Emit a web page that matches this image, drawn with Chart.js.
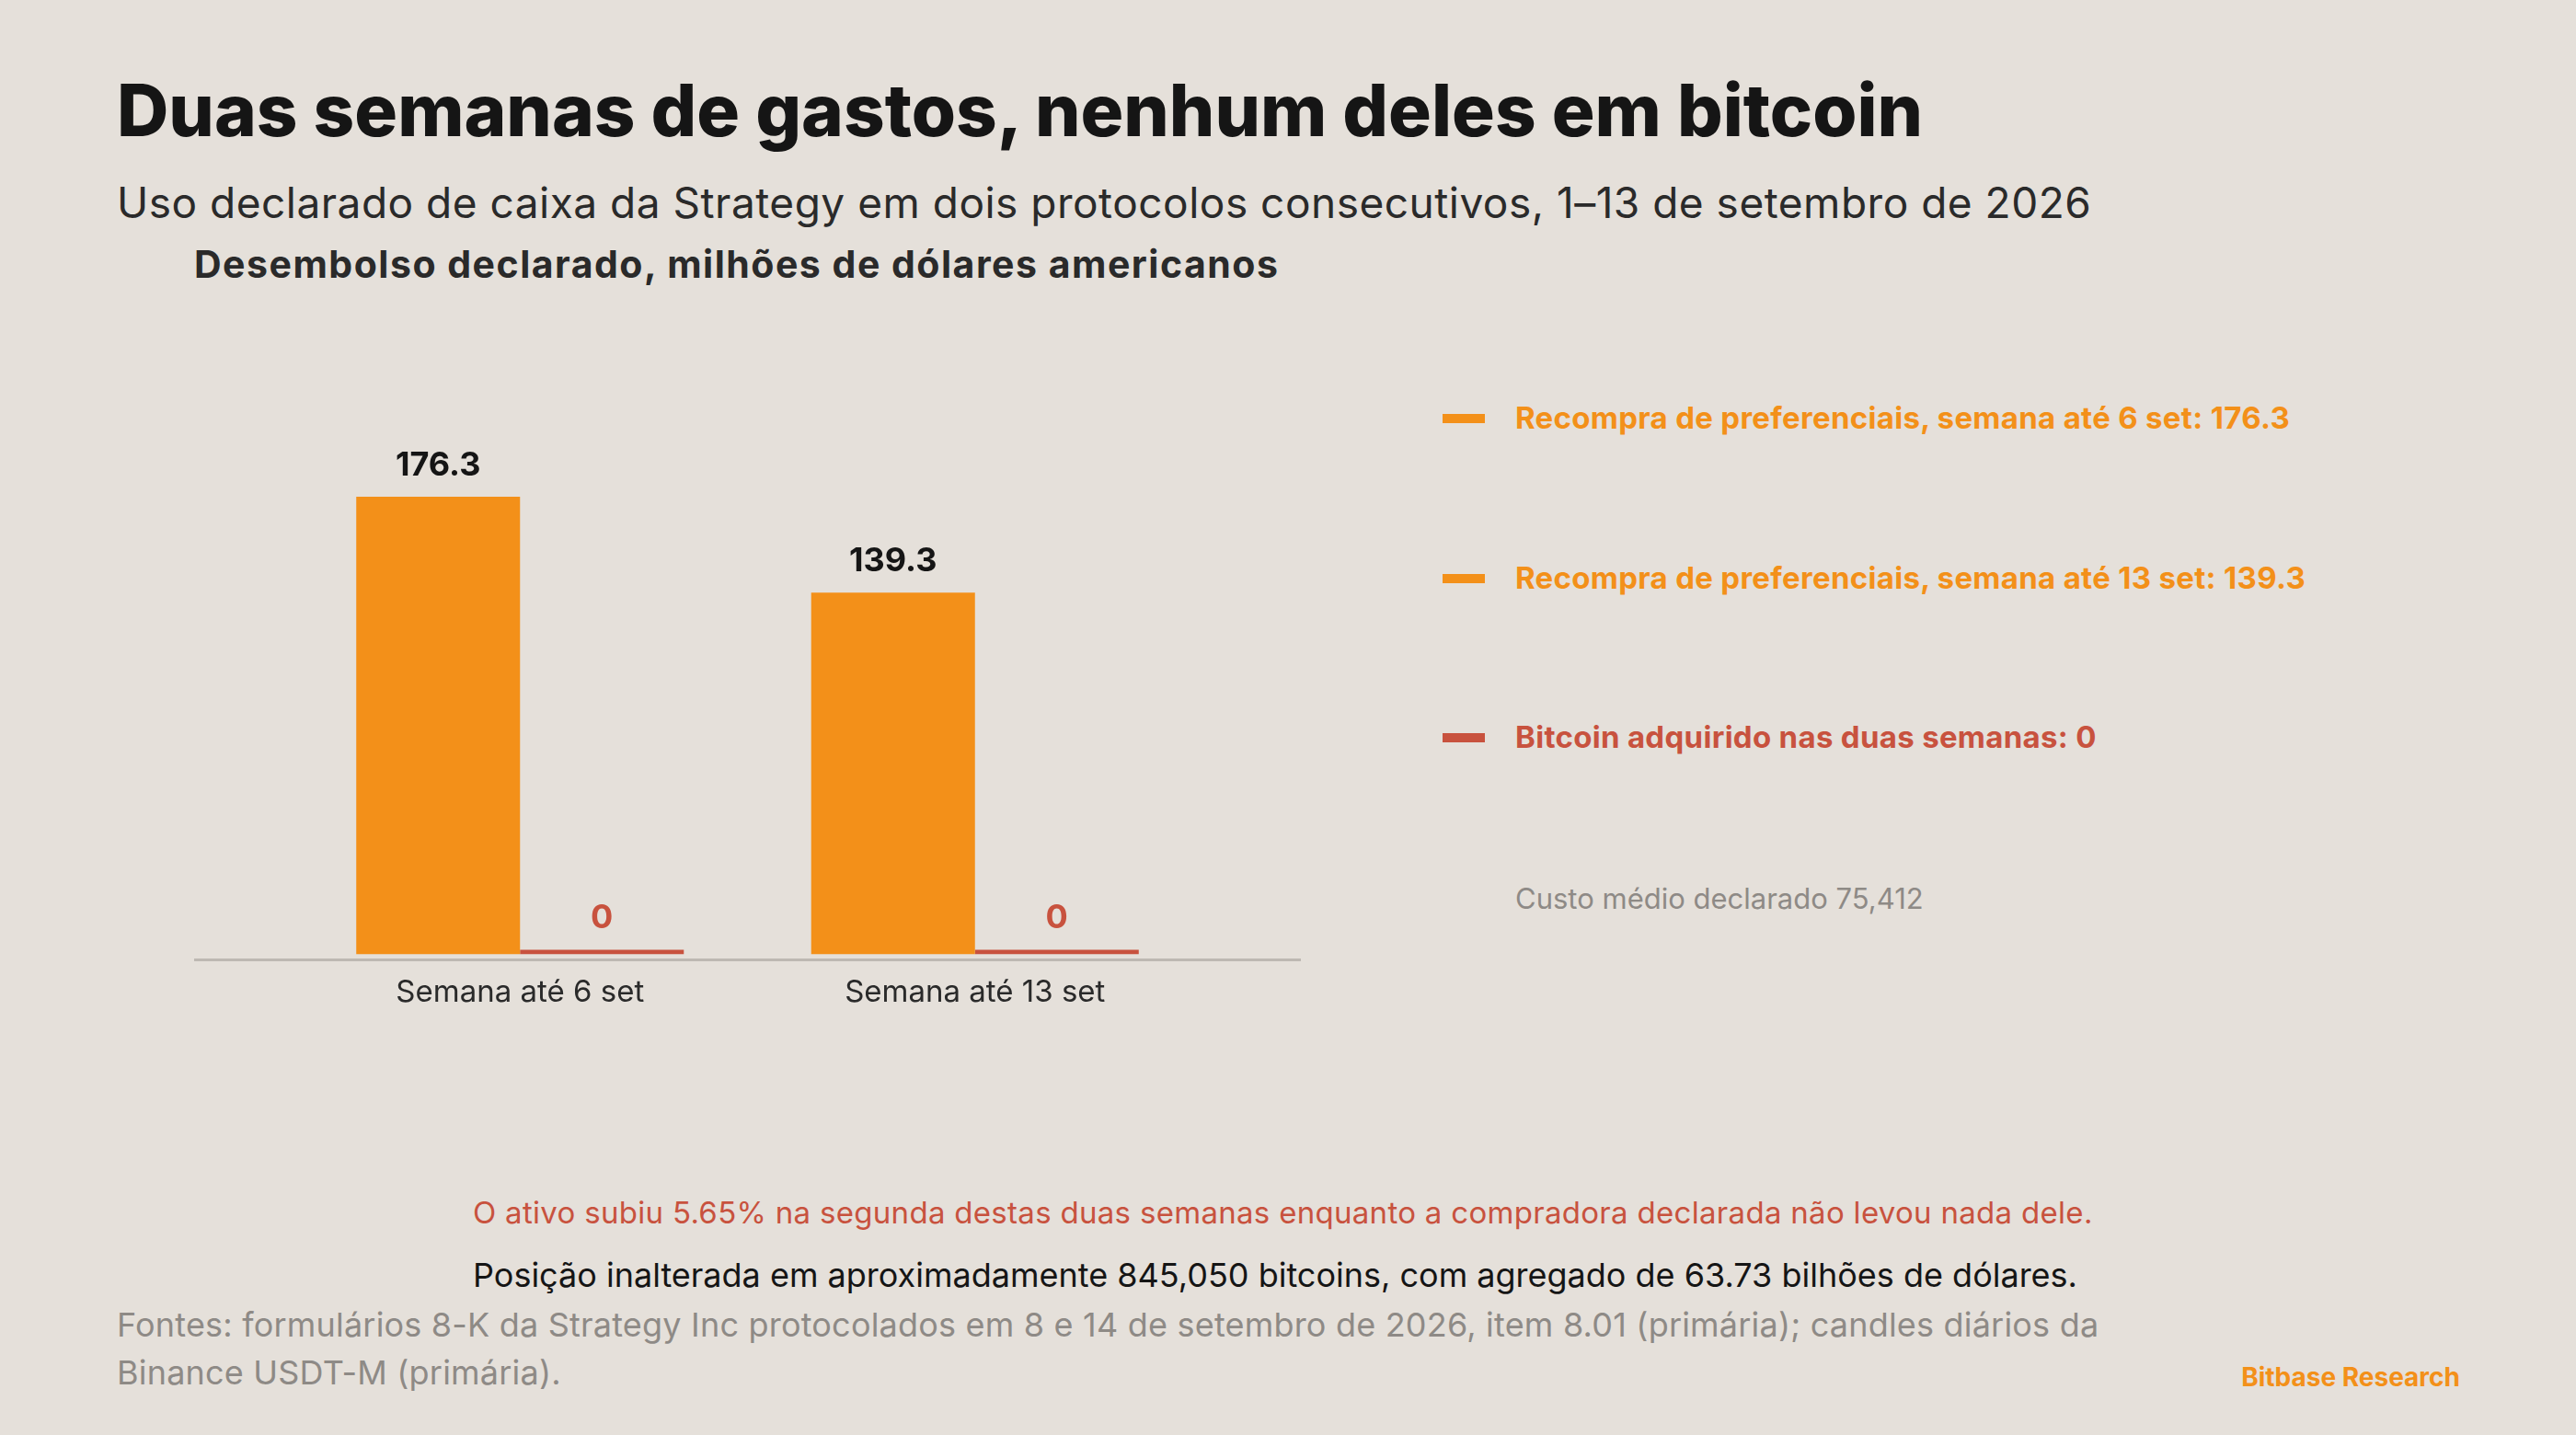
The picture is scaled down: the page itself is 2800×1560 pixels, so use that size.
<!DOCTYPE html>
<html><head><meta charset="utf-8">
<script src="https://cdn.jsdelivr.net/npm/chart.js@4"></script>
<style>
body{margin:0;width:2800px;height:1560px;background:#E5E0DA;font-family:Inter,"Open Sans",sans-serif;position:relative;overflow:hidden}
.t{position:absolute;white-space:nowrap}
</style></head><body>
<div class="t" style="left:127px;top:72px;font-size:78px;font-weight:800;color:#151515;letter-spacing:0px">Duas semanas de gastos, nenhum deles em bitcoin</div>
<div class="t" style="left:127px;top:192px;font-size:46px;color:#2a2a2a;letter-spacing:0.5px">Uso declarado de caixa da Strategy em dois protocolos consecutivos, 1–13 de setembro de 2026</div>
<div class="t" style="left:211px;top:262px;font-size:41px;font-weight:700;color:#2a2a2a;letter-spacing:1.5px">Desembolso declarado, milhões de dólares americanos</div>
<div style="position:absolute;left:211px;top:1042px;width:1203px;height:3px;background:#bdb8b2"></div>
<div style="position:absolute;left:318px;top:473px;width:989px;height:640px"><canvas id="c"></canvas></div>
<div id="leg"></div>
<div class="t" style="left:1647px;top:958px;font-size:31px;color:#8e8a86">Custo médio declarado 75,412</div>
<div class="t" style="left:514px;top:1298px;font-size:33px;color:#C8523E;letter-spacing:0.3px">O ativo subiu 5.65% na segunda destas duas semanas enquanto a compradora declarada não levou nada dele.</div>
<div class="t" style="left:514px;top:1364px;font-size:36px;color:#151515">Posição inalterada em aproximadamente 845,050 bitcoins, com agregado de 63.73 bilhões de dólares.</div>
<div class="t" style="left:127px;top:1414px;font-size:36px;color:#8e8a86;line-height:52px;letter-spacing:0.2px">Fontes: formulários 8-K da Strategy Inc protocolados em 8 e 14 de setembro de 2026, item 8.01 (primária); candles diários da<br>Binance USDT-M (primária).</div>
<div class="t" style="right:126px;top:1480px;font-size:28px;font-weight:700;color:#F39019">Bitbase Research</div>
<script>
const categories=["Semana até 6 set","Semana até 13 set"];
const buybacks=[176.3,139.3];
const bitcoin=[0,0];
const legendItems=["Recompra de preferenciais, semana até 6 set: 176.3","Recompra de preferenciais, semana até 13 set: 139.3","Bitcoin adquirido nas duas semanas: 0"];
const ORANGE="#F39019",RED="#C8523E";
const legColors=[ORANGE,ORANGE,RED];
const legY=[455,629,802];
const leg=document.getElementById('leg');
legendItems.forEach((s,i)=>{
  leg.innerHTML+=`<div style="position:absolute;left:1568px;top:${legY[i]-5}px;width:46px;height:10px;background:${legColors[i]}"></div><div class="t" style="left:1647px;top:${legY[i]-21}px;font-size:33px;font-weight:700;color:${legColors[i]};letter-spacing:0.3px">${s}</div>`;
});
const labels={id:'lbl',afterDatasetsDraw(ch){const x=ch.ctx;x.save();x.textAlign='center';x.textBaseline='bottom';
ch.data.datasets.forEach((d,di)=>{ch.getDatasetMeta(di).data.forEach((b,i)=>{x.font='700 36px Inter';x.fillStyle=di==0?'#151515':RED;x.fillText(String(d.data[i]),b.x,b.y-16);});});x.restore();}};
new Chart(document.getElementById('c'),{type:'bar',
data:{labels:categories,datasets:[{data:buybacks,backgroundColor:ORANGE,minBarLength:0},{data:bitcoin,backgroundColor:RED,minBarLength:5}]},
options:{responsive:true,maintainAspectRatio:false,animation:false,layout:{padding:0},
categoryPercentage:0.72,barPercentage:1,
plugins:{legend:{display:false},tooltip:{enabled:false}},
scales:{y:{display:false,min:0,max:200},x:{grid:{display:false},border:{display:false},ticks:{color:'#2a2a2a',font:{family:'Inter',size:33},padding:14}}}},
plugins:[labels]});
</script></body></html>
